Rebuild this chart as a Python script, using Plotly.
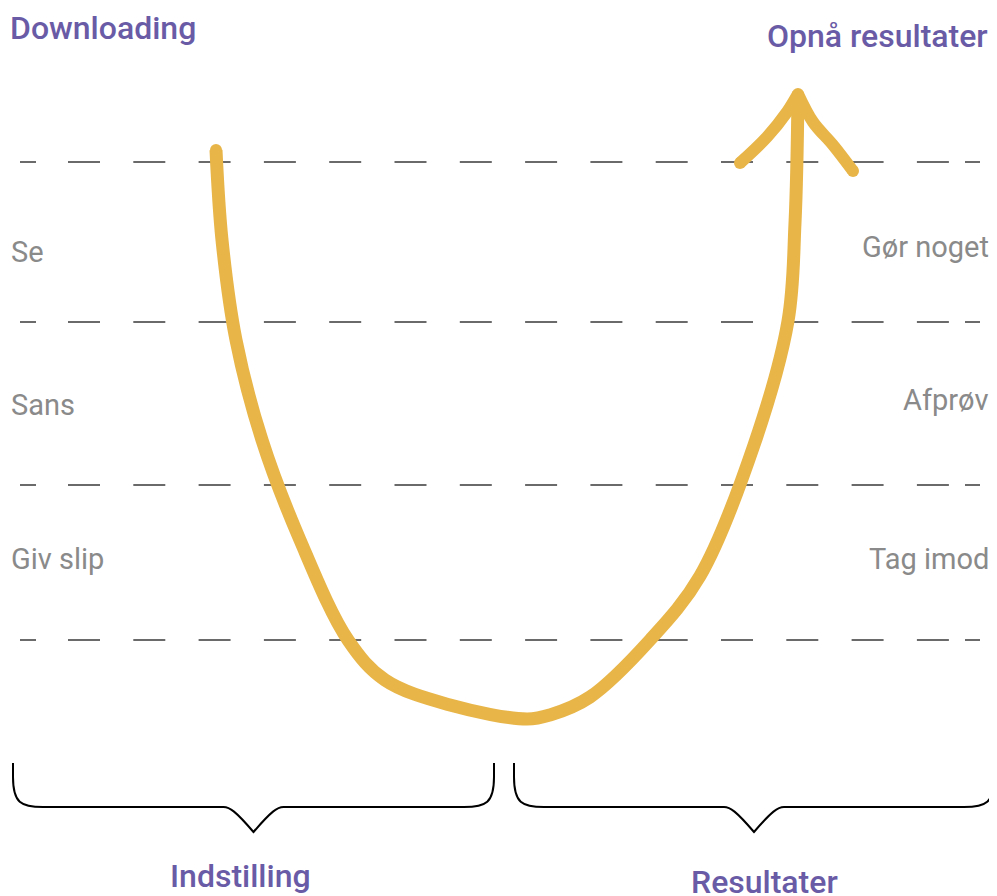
import plotly.graph_objects as go

# ---- data ----
u_x = [216, 222, 236, 262, 300, 348, 385, 450, 527,
       550, 590, 650, 700, 754, 788, 795, 798]
u_y = [150, 240, 340, 440, 540, 640, 680, 705, 719,
       715, 697, 640, 576, 445, 321, 223, 95]
arm_left_x = [740, 767, 787, 798]
arm_left_y = [163, 137, 112, 94]
arm_right_x = [798, 813, 833, 853]
arm_right_y = [94, 122, 145, 171]

level_y = [162, 322, 485, 640]
left_labels = ["Se", "Sans", "Giv slip"]
left_label_y = [252, 405, 559]
right_labels = ["Gør noget", "Afprøv", "Tag imod"]
right_label_y = [247, 400, 559]
top_labels = ["Downloading", "Opnå resultater"]
bottom_labels = ["Indstilling", "Resultater"]

GOLD = "#E8B548"
PURPLE = "#6A5BA6"
GREY = "#8A8A8A"

# page body has an 8px margin; compensate so figure coordinates equal screen pixels
OFF = 8

fig = go.Figure()

fig.add_trace(go.Scatter(x=u_x, y=u_y, mode="lines",
                         line=dict(color=GOLD, width=13, shape="spline", smoothing=1.0, simplify=False),
                         hoverinfo="skip", showlegend=False))
for ax, ay in ((arm_left_x, arm_left_y), (arm_right_x, arm_right_y)):
    fig.add_trace(go.Scatter(x=ax, y=ay, mode="lines",
                             line=dict(color=GOLD, width=12, shape="spline", smoothing=1.0, simplify=False),
                             hoverinfo="skip", showlegend=False))
# round caps
fig.add_trace(go.Scatter(x=[u_x[0], arm_left_x[0], arm_right_x[-1], arm_left_x[-1]],
                         y=[u_y[0], arm_left_y[0], arm_right_y[-1], arm_left_y[-1]],
                         mode="markers", marker=dict(color=GOLD, size=12, line=dict(width=0)),
                         hoverinfo="skip", showlegend=False))

shapes = []
for ly in level_y:
    ln = dict(color="#3a3a3a", width=1.5)
    shapes.append(dict(type="line", xref="x", yref="y", x0=20, x1=36, y0=ly, y1=ly, line=ln, layer="below"))
    shapes.append(dict(type="line", xref="x", yref="y", x0=68, x1=950, y0=ly, y1=ly,
                       line=dict(color="#3a3a3a", width=1.5, dash="32px,33.3px"), layer="below"))
    shapes.append(dict(type="line", xref="x", yref="y", x0=965, x1=980, y0=ly, y1=ly, line=ln, layer="below"))


def brace(x0, x1, top, mid, tip):
    c = (x0 + x1) / 2
    return (f"M {x0} {top} L {x0} {top+14} C {x0} {mid-4}, {x0+8} {mid}, {x0+30} {mid} "
            f"L {c-30} {mid} C {c-24} {mid}, {c-18} {mid+4}, {c} {tip} "
            f"C {c+18} {mid+4}, {c+24} {mid}, {c+30} {mid} "
            f"L {x1-30} {mid} C {x1-8} {mid}, {x1} {mid-4}, {x1} {top+14} L {x1} {top}")


shapes.append(dict(type="path", xref="x", yref="y", path=brace(13, 494, 763, 807, 832),
                   line=dict(color="black", width=2)))
shapes.append(dict(type="path", xref="x", yref="y", path=brace(514, 994, 763, 807, 832),
                   line=dict(color="black", width=2)))

annotations = []
head_font = dict(family="Roboto", size=32, color=PURPLE, weight=500)
grey_font = dict(family="Roboto", size=29, color=GREY)
annotations.append(dict(x=8, y=28, text=top_labels[0], xanchor="left", yanchor="middle",
                        showarrow=False, font=head_font, xref="x", yref="y"))
annotations.append(dict(x=990, y=36, text=top_labels[1], xanchor="right", yanchor="middle",
                        showarrow=False, font=head_font, xref="x", yref="y"))
annotations.append(dict(x=240, y=876, text=bottom_labels[0], xanchor="center", yanchor="middle",
                        showarrow=False, font=head_font, xref="x", yref="y"))
annotations.append(dict(x=764, y=882, text=bottom_labels[1], xanchor="center", yanchor="middle",
                        showarrow=False, font=head_font, xref="x", yref="y"))
for t, yy in zip(left_labels, left_label_y):
    annotations.append(dict(x=9, y=yy, text=t, xanchor="left", yanchor="middle",
                            showarrow=False, font=grey_font, xref="x", yref="y"))
for t, yy in zip(right_labels, right_label_y):
    annotations.append(dict(x=991, y=yy, text=t, xanchor="right", yanchor="middle",
                            showarrow=False, font=grey_font, xref="x", yref="y"))

fig.update_layout(
    width=997 - OFF, height=896 - OFF,
    margin=dict(l=0, r=0, t=0, b=0),
    paper_bgcolor="white", plot_bgcolor="white",
    xaxis=dict(range=[OFF, 997], visible=False, fixedrange=True),
    yaxis=dict(range=[896, OFF], visible=False, fixedrange=True),
    shapes=shapes, annotations=annotations,
    showlegend=False,
)

fig.write_html("out.html")
